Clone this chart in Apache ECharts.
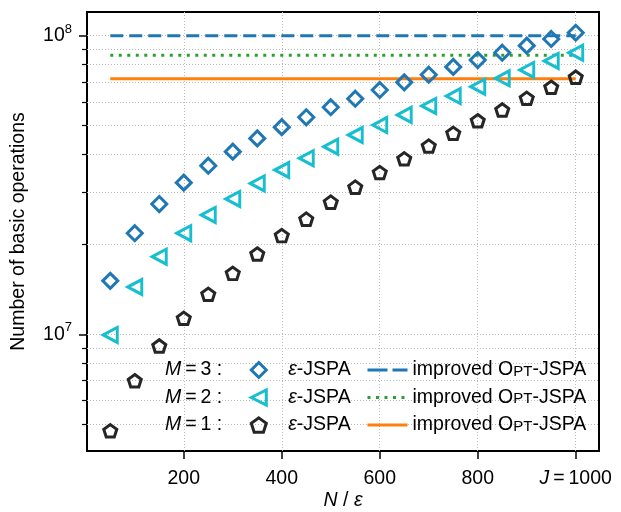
<!DOCTYPE html>
<html><head><meta charset="utf-8">
<script src="https://cdn.jsdelivr.net/npm/echarts@6/dist/echarts.min.js"></script>
<style>html,body{margin:0;padding:0;background:#fff}#c{width:621px;height:512px}</style>
</head><body><div id="c"></div>
<script>
// ---- data ----
const N = [50,100,150,200,250,300,350,400,450,500,550,600,650,700,750,800,850,900,950,1000];
const epsM3 = [1.51e7,2.18e7,2.73e7,3.22e7,3.67e7,4.09e7,4.53e7,4.94e7,5.33e7,5.76e7,6.15e7,6.58e7,6.98e7,7.40e7,7.86e7,8.29e7,8.77e7,9.26e7,9.75e7,1.023e8];
const epsM2 = [9.95e6,1.44e7,1.82e7,2.18e7,2.51e7,2.84e7,3.20e7,3.55e7,3.89e7,4.25e7,4.65e7,5.02e7,5.43e7,5.82e7,6.28e7,6.75e7,7.20e7,7.68e7,8.23e7,8.77e7];
const epsM1 = [4.75e6,6.99e6,9.14e6,1.131e7,1.361e7,1.60e7,1.857e7,2.14e7,2.43e7,2.77e7,3.11e7,3.48e7,3.87e7,4.27e7,4.71e7,5.19e7,5.64e7,6.17e7,6.72e7,7.26e7];
const optM3 = 1.0e8;
const optM2 = 8.6e7;
const optM1 = 7.18e7;
const xTicks = [200,400,600,800,1000];
const yMajorTicks = [1e7,1e8];
const yMinorTicks = [5e6,6e6,7e6,8e6,9e6,2e7,3e7,4e7,5e7,6e7,7e7,8e7,9e7];
const rowLabels = ['3','2','1'];

// ---- styling ----
const FF = '"Liberation Sans", Arial, Helvetica, sans-serif';
const FS = 19.5;
const C3 = '#1f77b4', C2 = '#17becf', C1 = '#262626';
const GREEN = '#2ca02c', ORANGE = '#ff7f0e';
const grid = {color:'#b8b8b8', width:1, type:[1,2]};
const TRI = 'path://M0,1 L2,0 L2,2 Z';
const PENT = 'path://M5,0 L9.755,3.455 L7.939,9.045 L2.061,9.045 L0.245,3.455 Z';
const yMin = 4.066e6, yMax = 1.2005e8;
const thin = '\u2009';
const BW = 3;

function pairs(ys){ return N.map((x,i)=>[x, ys[i]]); }
function hline(v){ return [[N[0], v],[N[N.length-1], v]]; }

const chart = echarts.init(document.getElementById('c'), null, {renderer:'canvas'});
chart.setOption({
  animation:false,
  backgroundColor:'#fff',
  textStyle:{fontFamily:FF},
  grid:{left:87, right:22, top:12, bottom:61, show:true, borderColor:'#000', borderWidth:2, backgroundColor:'transparent',
        containLabel:false, outerBoundsMode:'none'},
  xAxis:{
    type:'value', min:2.5, max:1047.5,
    axisLine:{show:false},
    axisTick:{show:true, customValues:xTicks, length:8, lineStyle:{color:'#000', width:1.5}},
    axisLabel:{customValues:xTicks, margin:17.5, color:'#000', fontSize:FS, fontFamily:FF, lineHeight:20,
      formatter:function(v){ return v===1000 ? '{i|J}{n|'+thin+'='+thin+'1000}' : '{n|'+v+'}'; },
      rich:{i:{fontStyle:'italic', fontSize:FS, fontFamily:FF, color:'#000', lineHeight:20}, n:{fontSize:FS, fontFamily:FF, color:'#000', lineHeight:20}}},
    splitLine:{show:true, lineStyle:grid},
    name:'{i|N}{n| / }{i|ε}', nameLocation:'middle', nameGap:40, nameMoveOverlap:false,
    nameTextStyle:{rich:{i:{fontStyle:'italic', fontSize:FS, fontFamily:FF, color:'#000', lineHeight:20}, n:{fontSize:FS, fontFamily:FF, color:'#000', lineHeight:20}}}
  },
  yAxis:[{
    type:'log', logBase:10, min:yMin, max:yMax, position:'left',
    axisLine:{show:false},
    axisTick:{show:true, customValues:yMajorTicks, length:8, lineStyle:{color:'#000', width:1.5}},
    axisLabel:{customValues:yMajorTicks, margin:15, color:'#000',
      formatter:function(v){ const e = Math.round(v>100 ? Math.log10(v) : v); return '{b|10}{s|'+e+'}'; },
      rich:{b:{fontSize:FS, fontFamily:FF, color:'#000', lineHeight:26}, s:{fontSize:13, fontFamily:FF, color:'#000', lineHeight:14, verticalAlign:'top'}}},
    splitLine:{show:true, lineStyle:grid},
    minorTick:{show:false}, minorSplitLine:{show:false},
    name:'Number of basic operations', nameLocation:'middle', nameGap:58, nameMoveOverlap:false,
    nameTextStyle:{fontSize:FS, fontFamily:FF, color:'#000', lineHeight:20}
  },{
    type:'log', logBase:10, min:yMin, max:yMax, position:'left', offset:0,
    axisLine:{show:false},
    axisTick:{show:true, customValues:yMinorTicks, length:5, lineStyle:{color:'#000', width:1.2}},
    axisLabel:{show:false},
    splitLine:{show:true, lineStyle:grid}
  }],
  legend:[{
    orient:'vertical', left:249.8, top:360, padding:0, itemWidth:15, itemHeight:15, itemGap:7.5,
    selectedMode:false, data:['M3 eps','M2 eps','M1 eps'],
    itemStyle:{borderWidth:BW},
    formatter:function(){ return '{e|ε}{a|-JSPA}'; },
    textStyle:{rich:{
      e:{fontSize:FS, fontFamily:FF, fontStyle:'italic', color:'#000', lineHeight:20, padding:[0,0,0,17]},
      a:{fontSize:FS, fontFamily:FF, color:'#000', lineHeight:20}}}
  },{
    orient:'vertical', left:366, top:360, padding:0, itemWidth:40, itemHeight:15, itemGap:7.5,
    selectedMode:false,
    data:[{name:'M3 opt', lineStyle:{type:[20,5]}},{name:'M2 opt'},{name:'M1 opt'}],
    itemStyle:{opacity:0}, lineStyle:{width:3},
    formatter:function(){ return '{n|improved O}{s|PT}{n|-JSPA}'; },
    textStyle:{rich:{
      n:{fontSize:FS, fontFamily:FF, color:'#000', lineHeight:20},
      s:{fontSize:15, fontFamily:FF, color:'#000', lineHeight:17, padding:[3,0,0,0]}}}
  }],
  graphic: rowLabels.map(function(k, i){
    return {type:'text', left:165, top:360 + i*27.5, z:100,
      style:{text:'{i|M}{n|'+thin+'='+thin+k+' :}', rich:{i:{fontStyle:'italic', fontSize:FS, fontFamily:FF, fill:'#000', lineHeight:20}, n:{fontSize:FS, fontFamily:FF, fill:'#000', lineHeight:20}}}};
  }),
  series:[
    {name:'M3 opt', type:'line', data:hline(optM3), symbol:'none', z:2, lineStyle:{color:C3, width:3, type:[13,6], cap:'butt'}, itemStyle:{color:C3}},
    {name:'M2 opt', type:'line', data:hline(optM2), symbol:'none', z:2, lineStyle:{color:GREEN, width:3, type:[3,5.5], cap:'butt'}, itemStyle:{color:GREEN}},
    {name:'M1 opt', type:'line', data:hline(optM1), symbol:'none', z:2, lineStyle:{color:ORANGE, width:3, cap:'butt'}, itemStyle:{color:ORANGE}},
    {name:'M3 eps', type:'scatter', data:pairs(epsM3), symbol:'diamond', symbolSize:[15,15], z:3,
      itemStyle:{color:'rgba(0,0,0,0)', borderColor:C3, borderWidth:BW, opacity:1}},
    {name:'M2 eps', type:'scatter', data:pairs(epsM2), symbol:TRI, symbolSize:[14,15], z:3,
      itemStyle:{color:'rgba(0,0,0,0)', borderColor:C2, borderWidth:BW, opacity:1}},
    {name:'M1 eps', type:'scatter', data:pairs(epsM1), symbol:PENT, symbolSize:[13,12.5], z:3,
      itemStyle:{color:'rgba(0,0,0,0)', borderColor:C1, borderWidth:BW, opacity:1}}
  ]
});
</script></body></html>
